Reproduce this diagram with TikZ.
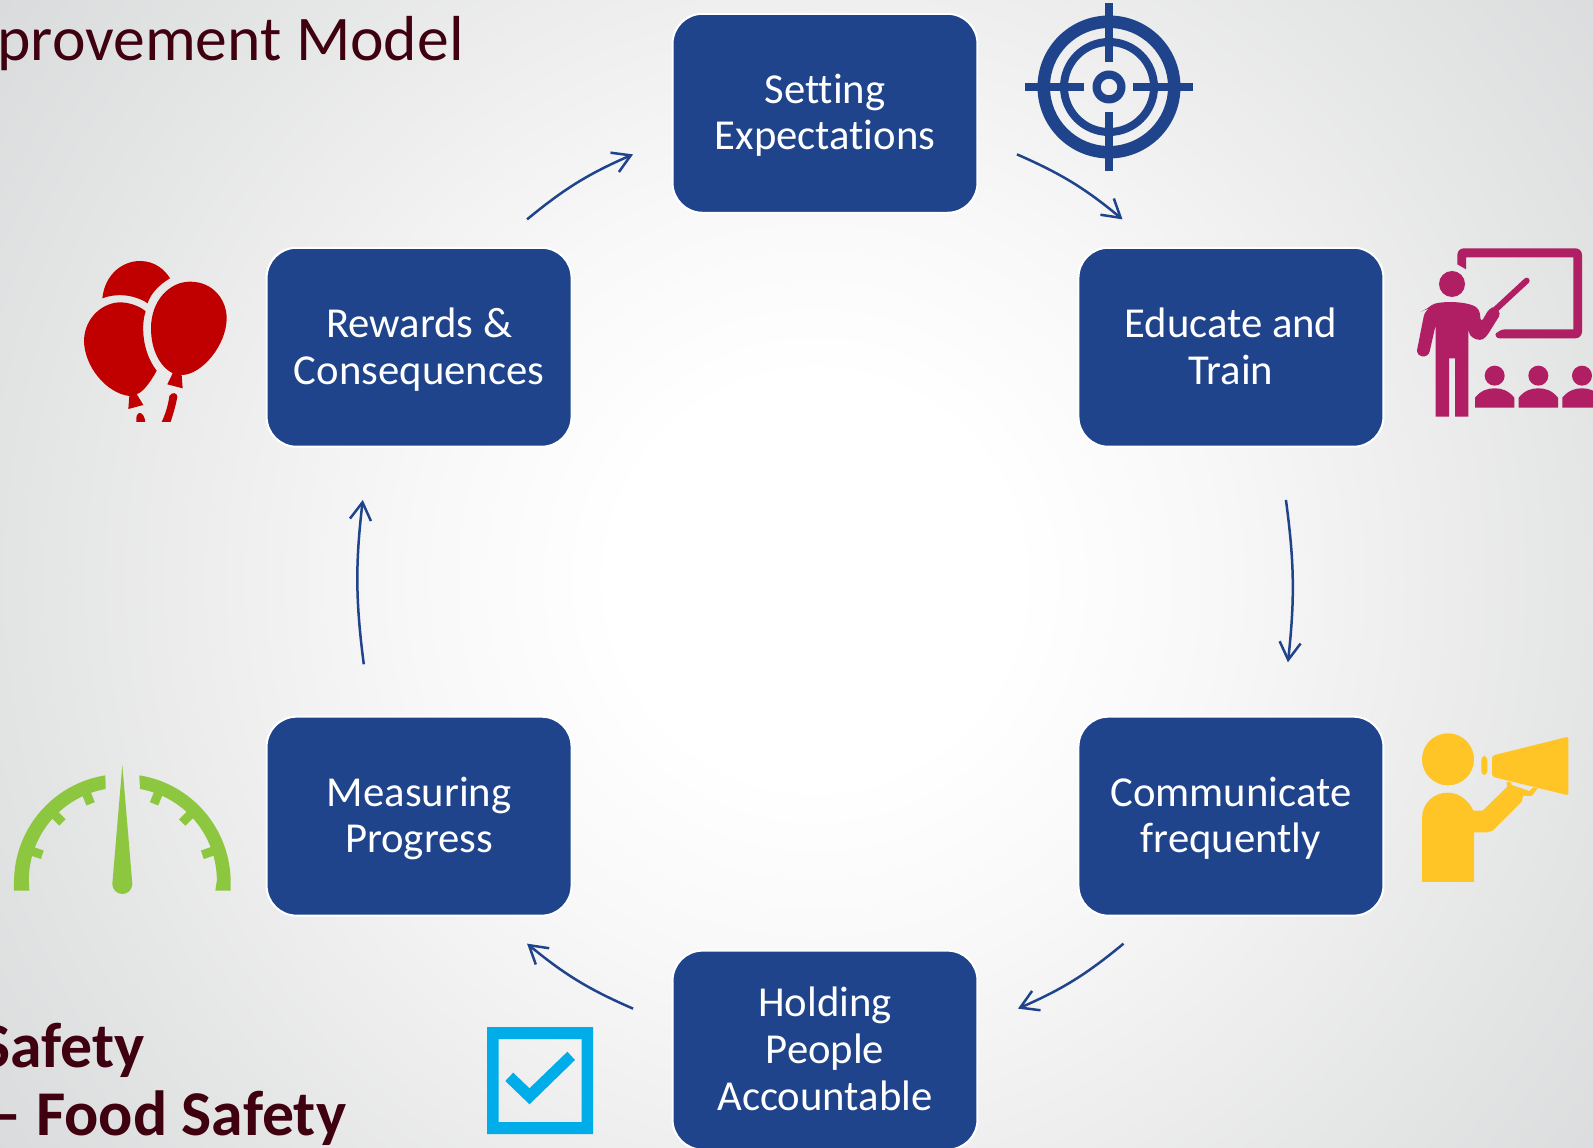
\documentclass[tikz,border=0pt]{standalone}
\usepackage{fontspec}
\setmainfont[Ligatures=NoCommon]{Carlito}
\usetikzlibrary{arrows.meta,positioning}

\definecolor{boxblue}{HTML}{1F448B}
\definecolor{titlered}{HTML}{3F0010}
\definecolor{teachpink}{HTML}{B01F63}
\definecolor{balloonred}{HTML}{C00000}
\definecolor{gaugegreen}{HTML}{8DC63F}
\definecolor{megayellow}{HTML}{FFC425}
\definecolor{checkblue}{HTML}{00ADE8}
\definecolor{bgedge}{HTML}{DADBDC}
\definecolor{bgmid}{HTML}{E3E4E4}
\definecolor{bgsoft}{HTML}{EEEEEE}
\definecolor{bglight}{HTML}{F8F8F8}

\pgfdeclareradialshading{bgglow}{\pgfpoint{0bp}{0bp}}{%
  color(0bp)=(white); color(5bp)=(white); color(10bp)=(bglight); color(15bp)=(bgsoft);
  color(20bp)=(bgmid); color(25bp)=(bgedge); color(50bp)=(bgedge)}

\begin{document}
\begin{tikzpicture}[
    x=0.02cm, y=-0.02cm,
    node distance=0.66cm and 1.98cm,
    box/.style={rectangle, rounded corners=0.6cm, draw=white, line width=0.04cm, fill=boxblue, text=white,
        minimum width=6.1cm, minimum height=3.98cm, align=center, font=\fontsize{24.3}{26.6}\selectfont,
        text depth=1.6pt},
    arrow/.style={-{Straight Barb[length=10pt,width=12pt]}, line width=0.05cm, boxblue},
    headtext/.style={text=titlered, inner sep=0pt, font=\fontsize{36.2}{43}\selectfont},
    boldtext/.style={text=titlered, inner sep=0pt, font=\fontsize{36.3}{43}\selectfont\bfseries}
]
    \useasboundingbox (0,0) rectangle (1593,1148);
    \clip (0,0) rectangle (1593,1148);
    \shade[shading=bgglow] (-185,-420) rectangle (1815,1580);

    % the six steps
    \node[box] (setting) at (825,113.3) {Setting\\Expectations};
    \node[box, below right=of setting] (educate) {Educate and\\Train};
    \node[box, below=5.36cm of educate] (communicate) {Communicate\\frequently};
    \node[box, below left=of communicate] (holding) {Holding\\People\\Accountable};
    \node[box, above left=of holding] (measuring) {Measuring\\Progress};
    \node[box, above=5.36cm of measuring] (rewards) {Rewards \&\\Consequences};

    \draw[arrow] ([shift={(38.5,-59.4)}]setting.south east) to[bend left=8] ([shift={(-108.4,-27.4)}]educate.north);
    \draw[arrow] ([shift={(55,52.2)}]educate.south) to[bend left=7] ([shift={(57,-53.4)}]communicate.north);
    \draw[arrow] ([shift={(-107.4,27)}]communicate.south) to[bend left=8] ([shift={(39.5,59)}]holding.north east);
    \draw[arrow] ([shift={(-38.5,59)}]holding.north west) to[bend left=8] ([shift={(108,27)}]measuring.south);
    \draw[arrow] ([shift={(-55.3,-51.4)}]measuring.north) to[bend left=7] ([shift={(-56.3,52.2)}]rewards.south);
    \draw[arrow] ([shift={(108,-27.4)}]rewards.north) to[bend left=8] ([shift={(-38.5,-59.4)}]setting.south west);

    % clipped slide text
    \node[headtext, anchor=base east] (title) at (464,61) {provement Model};
    \node[boldtext, anchor=base east] (subone) at (145,1067) {Safety};
    \node[boldtext, anchor=base east] (subtwo) at (346.5,1135) {– Food Safety};

    % target
    \begin{scope}[shift={(1109,87)}, boxblue]
        \fill[even odd rule] (0,0) circle[radius=71.5] (0,0) circle[radius=59];
        \fill[even odd rule] (0,0) circle[radius=49] (0,0) circle[radius=41];
        \fill[even odd rule] (0,0) circle[radius=16.5] (0,0) circle[radius=8.3];
        \fill (-4.2,-83.7) rectangle (4.2,-25);
        \fill (-4.2,25) rectangle (4.2,83.7);
        \fill (-84,-4.2) rectangle (-24.7,4.2);
        \fill (24.3,-4.2) rectangle (84,4.2);
    \end{scope}

    % teacher
    \begin{scope}[shift={(1400,230)}, scale=1/3, teachpink]
        \fill[rounded corners=0.13cm] (172,103) -- (172,55) -- (546,55) -- (546,325) -- (280,325) -- (295,298)
            [sharp corners] -- (520,298) -- (520,82) -- (198,82) -- (198,118) -- cycle;
        \fill (156,162) circle[radius=39];
        \draw[line width=0.12cm, line cap=round] (285,240) -- (380,152);
        \fill[rounded corners=0.08cm] (80,238) .. controls (110,212) and (200,212) .. (238,238) -- (243,278)
            -- (268,235) -- (285,230) -- (303,250) -- (258,322) -- (240,333) -- (208,318) -- (205,290)
            [sharp corners] -- (205,560) -- (165,560) -- (165,385) -- (147,385) -- (147,560) -- (107,560) -- (107,285)
            [rounded corners=0.12cm] -- (85,382) -- (48,376) -- (75,240) -- cycle;
        \foreach \seat in {284,415,546} {
            \fill (\seat,437) circle[radius=30];
            \fill (\seat-59,533) -- (\seat-59,503) .. controls (\seat-40,480) and (\seat-20,475) .. (\seat,475)
                .. controls (\seat+20,475) and (\seat+40,480) .. (\seat+59,503) -- (\seat+59,533) -- cycle;
        }
    \end{scope}

    % balloons
    \begin{scope}[shift={(70,250)}, scale=1/3, balloonred]
        \fill (97,145) .. controls (105,70) and (160,33) .. (210,33) .. controls (255,33) and (285,60) .. (300,85)
            .. controls (265,105) and (240,135) .. (233,160) .. controls (205,140) and (150,125) .. (97,145) -- cycle;
        \fill (42,270) .. controls (45,200) and (100,158) .. (150,157) .. controls (185,157) and (220,175) .. (227,185)
            .. controls (215,215) and (212,300) .. (260,362) .. controls (240,400) and (215,430) .. (200,432)
            -- (220,465) -- (175,477) -- (178,438) .. controls (110,430) and (42,350) .. (42,270) -- cycle;
        \fill (243,235) .. controls (243,150) and (300,95) .. (360,95) .. controls (430,95) and (470,150) .. (470,205)
            .. controls (470,285) and (395,375) .. (335,375) -- (338,415) -- (292,403) -- (308,370)
            .. controls (270,350) and (243,300) .. (243,235) -- cycle;
        \fill (199,516) .. controls (195,480) and (222,480) .. (226,516) -- cycle;
        \fill (298,438) .. controls (305,425) and (322,428) .. (322,440) .. controls (318,465) and (310,490) .. (302,516)
            -- (275,516) .. controls (285,495) and (295,465) .. (298,438) -- cycle;
    \end{scope}

    % gauge
    \begin{scope}[shift={(0,750)}, scale=1/3, gaugegreen]
        \fill (42,422) -- (42,397) arc[start angle=180, end angle=261, radius=325] -- (317,117)
            arc[start angle=260, end angle=180, radius=279] -- (88,422) -- cycle;
        \fill (692,422) -- (692,397) arc[start angle=0, end angle=-81, radius=325] -- (420,117)
            arc[start angle=-80, end angle=0, radius=279] -- (646,422) -- cycle;
        \fill (337,402) -- (367,45) -- (397,402) arc[start angle=0, end angle=180, radius=30] -- cycle;
        \begin{scope}[shift={(367,397)}]
            \foreach \tick in {199,225,248,292,315,341} {
                \draw[line width=0.18cm] (\tick:290) -- (\tick:254);
            }
        \end{scope}
    \end{scope}

    % megaphone
    \begin{scope}[shift={(1410,720)}, scale=1/3, megayellow]
        \fill (114,118) circle[radius=78];
        \fill (36,486) -- (36,295) .. controls (36,250) and (70,218) .. (114,218) .. controls (150,218) and (178,245) .. (190,272)
            -- (218,272) -- (295,197) -- (340,225) -- (335,245) -- (258,322) .. controls (248,333) and (240,337) .. (230,337)
            -- (192,337) -- (192,486) -- cycle;
        \fill[rounded corners=0.04cm] (246,107) -- (475,50) -- (475,226) -- (246,170) -- cycle;
        \fill[rounded corners=0.08cm] (214,108) rectangle (232,165);
        \fill (290,185) -- (292,205) -- (345,228) -- (365,228) -- (383,205) -- (370,202) -- (358,213) -- (305,195) -- (303,187) -- cycle;
    \end{scope}

    % check box
    \fill[checkblue, even odd rule] (487,1027) rectangle (593,1134) (498.5,1039) rectangle (581.5,1122);
    \fill[checkblue] (513.2,1072.7) -- (529.5,1088.3) -- (567.4,1051.7) -- (575,1060) -- (529.5,1104.3) -- (505.3,1081) -- cycle;
\end{tikzpicture}
\end{document}
